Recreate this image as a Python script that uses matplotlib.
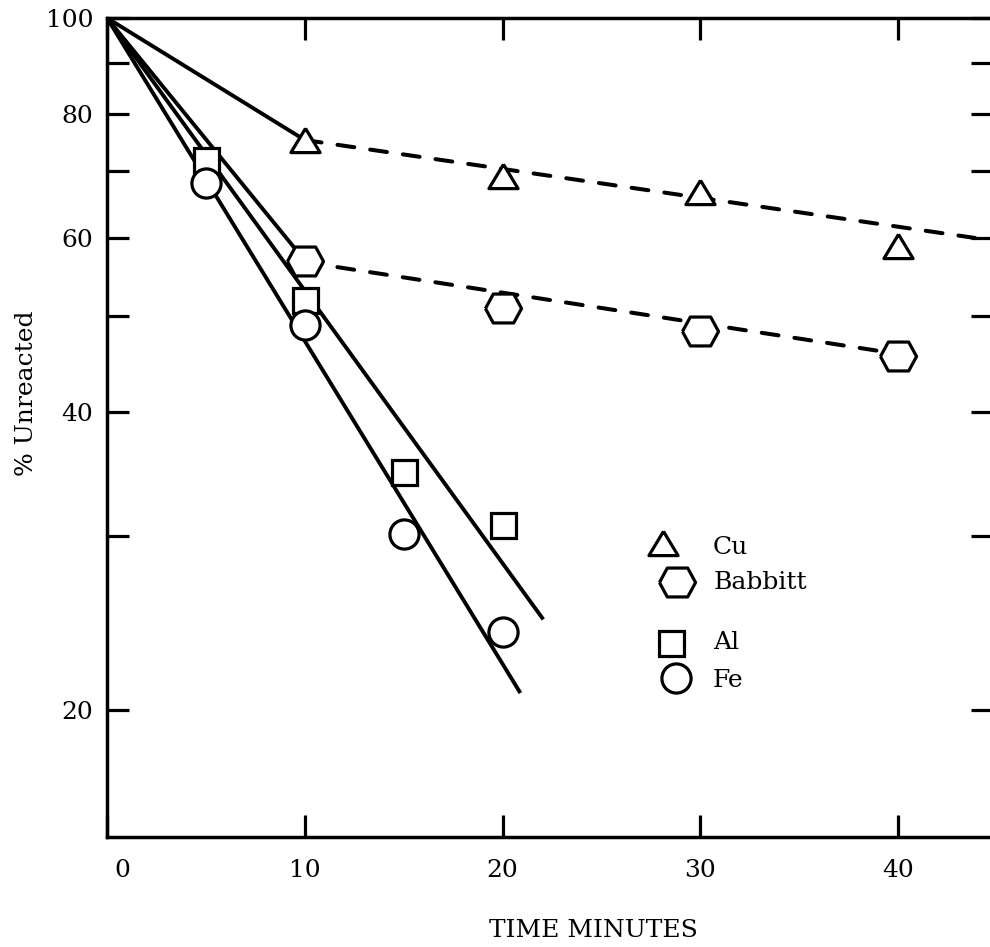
"""Semi-log plot of percent unreacted against time for four metals."""

import matplotlib

matplotlib.use("Agg")

import matplotlib.pyplot as plt
from matplotlib.ticker import FixedLocator, NullLocator
from matplotlib.transforms import ScaledTranslation

plt.rcParams["font.family"] = ["DejaVu Serif"]

# measured points
time_cu = [10, 20, 30, 40]
unreacted_cu = [75.3, 69.2, 66.7, 58.8]
time_babbitt = [10, 20, 30, 40]
unreacted_babbitt = [56.9, 50.9, 48.3, 45.6]
time_al = [5, 10, 15, 20]
unreacted_al = [71.9, 51.9, 34.8, 30.8]
time_fe = [5, 10, 15, 20]
unreacted_fe = [68.2, 49.0, 30.1, 24.0]

# drawn trend lines (end points)
fit_cu_time = [0, 10]
fit_cu = [100, 75.3]
trend_cu_time = [10, 44.8]
trend_cu = [75.3, 59.6]
fit_babbitt_time = [0, 10]
fit_babbitt = [100, 56.9]
trend_babbitt_time = [10, 40]
trend_babbitt = [56.7, 45.8]
fit_al_time = [0, 22.0]
fit_al = [100, 24.8]
fit_fe_time = [0, 20.85]
fit_fe = [100, 20.9]

y_ticks = [20, 30, 40, 50, 60, 70, 80, 90, 100]
y_tick_labels = ["20", "", "40", "", "60", "", "80", "", "100"]
x_ticks = [0, 10, 20, 30, 40]
legend_labels = ["Cu", "Babbitt", "Al", "Fe"]

hexagon = [(-1, 0), (-0.565, 0.8), (0.565, 0.8), (1, 0), (0.565, -0.8), (-0.565, -0.8), (-1, 0)]
triangle = [(0, 0.83), (-1, -0.83), (1, -0.83), (0, 0.83)]

line_kw = dict(color="black", lw=2.8)
dash_kw = dict(color="black", lw=2.9, linestyle=(0, (4.2, 4.0)), dash_capstyle="round")
mark_kw = dict(linestyle="none", markerfacecolor="white", markeredgecolor="black",
               markeredgewidth=2.3, zorder=5, clip_on=False)

fig = plt.figure(figsize=(9.9, 9.47), dpi=100)
ax = fig.add_axes([0.1081, 0.1162, 0.895, 0.8648])

ax.plot(fit_cu_time, fit_cu, **line_kw)
ax.plot(trend_cu_time, trend_cu, **dash_kw)
ax.plot(fit_babbitt_time, fit_babbitt, **line_kw)
ax.plot(trend_babbitt_time, trend_babbitt, **dash_kw)
ax.plot(fit_al_time, fit_al, **line_kw)
ax.plot(fit_fe_time, fit_fe, **line_kw)

ax.plot(time_cu, unreacted_cu, marker=triangle, markersize=21, **mark_kw)
ax.plot(time_babbitt, unreacted_babbitt, marker=hexagon, markersize=26, **mark_kw)
ax.plot(time_al, unreacted_al, marker="s", markersize=18, **mark_kw)
ax.plot(time_fe, unreacted_fe, marker="o", markersize=21, **mark_kw)

ax.set_yscale("log")
ax.set_ylim(14.9, 100)
ax.set_xlim(0, 44.8)
ax.yaxis.set_major_locator(FixedLocator(y_ticks))
ax.yaxis.set_minor_locator(NullLocator())
ax.set_yticklabels(y_tick_labels)
ax.set_xticks(x_ticks)
ax.set_xticklabels([str(t) for t in x_ticks])

ax.tick_params(axis="both", direction="in", length=16, width=2.3, labelsize=18,
               top=True, right=True)
ax.tick_params(axis="y", pad=10)
ax.tick_params(axis="x", pad=16)
for side in ("left", "bottom", "top", "right"):
    ax.spines[side].set_linewidth(2.5)

# the zero label sits a little right of its tick on the original
zero_label = ax.get_xticklabels()[0]
zero_label.set_transform(zero_label.get_transform()
                         + ScaledTranslation(0.15, 0, fig.dpi_scale_trans))

# hand-placed key, as on the original
key_markers = [(triangle, 21), (hexagon, 26), ("s", 18), ("o", 21)]
key_marker_xy = [(0.6275, 0.359), (0.643, 0.311), (0.6366, 0.237), (0.642, 0.194)]
key_text_y = [0.353, 0.311, 0.237, 0.191]
for (mk, ms), (kx, ky), ty, label in zip(key_markers, key_marker_xy, key_text_y, legend_labels):
    ax.plot([kx], [ky], marker=mk, markersize=ms, transform=ax.transAxes, **mark_kw)
    ax.text(0.684, ty, label, transform=ax.transAxes, fontsize=18, va="center", ha="left")

fig.text(593 / 990, 1 - 930 / 947, "TIME MINUTES", fontsize=18, ha="center", va="center")
fig.text(27 / 990, 1 - 393 / 947, "% Unreacted", fontsize=18, ha="center", va="center",
         rotation=90)

fig.savefig("out.png", dpi=100)
plt.close(fig)
